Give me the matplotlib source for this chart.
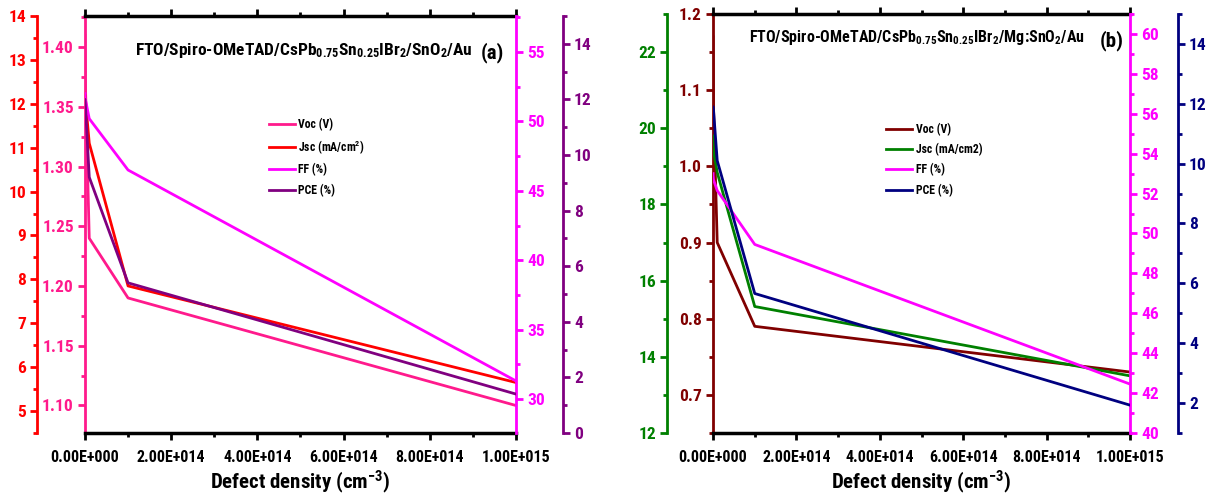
import matplotlib
matplotlib.use("Agg")
import matplotlib.pyplot as plt
from matplotlib import font_manager
from matplotlib.ticker import MultipleLocator, FuncFormatter, FormatStrFormatter

# font: a narrow bold face if one is installed
names = set(f.name for f in font_manager.fontManager.ttflist)
fam = "Liberation Sans"
for cand in ["Liberation Sans Narrow", "Arial Narrow", "Roboto Condensed", "Open Sans Condensed",
             "Noto Sans Condensed", "DejaVu Sans Condensed"]:
    if cand in names:
        fam = cand
        break
narrow = fam != "Liberation Sans"
k = 1.0 if narrow else 0.84  # shrink text when no narrow face

plt.rcParams["font.family"] = [fam, "DejaVu Sans"]
plt.rcParams["font.weight"] = "bold"
plt.rcParams["axes.labelweight"] = "bold"
plt.rcParams["mathtext.fontset"] = "custom"
plt.rcParams["mathtext.rm"] = fam + ":bold"
plt.rcParams["mathtext.it"] = fam + ":bold"
plt.rcParams["mathtext.bf"] = fam + ":bold"
plt.rcParams["mathtext.default"] = "rm"

# data (defect density sweep)
density = [1e10, 1e11, 1e12, 1e13, 1e14, 1e15]

voc_a = [1.41, 1.40, 1.37, 1.24, 1.19, 1.10]
jsc_a = [12.2, 12.2, 12.1, 11.1, 7.85, 5.65]
ff_a = [52.0, 51.9, 51.6, 50.2, 46.5, 31.3]
pce_a = [12.0, 12.0, 11.8, 9.2, 5.4, 1.4]

voc_b = [1.17, 1.15, 1.08, 0.90, 0.79, 0.73]
jsc_b = [19.8, 19.7, 19.4, 18.84, 15.32, 13.5]
ff_b = [53.0, 52.9, 52.7, 52.15, 49.45, 42.45]
pce_b = [11.9, 11.9, 11.8, 10.1, 5.66, 1.93]

title_a = "FTO/Spiro-OMeTAD/CsPb$_{0.75}$Sn$_{0.25}$IBr$_2$/SnO$_2$/Au"
title_b = "FTO/Spiro-OMeTAD/CsPb$_{0.75}$Sn$_{0.25}$IBr$_2$/Mg:SnO$_2$/Au"
xticks = [0, 2e14, 4e14, 6e14, 8e14, 1e15]

LW = 2.0


def sci(v, pos):
    if v == 0:
        return "0.00E+000"
    e = 0
    m = v
    while abs(m) >= 10:
        m /= 10
        e += 1
    return "%.2fE+%03d" % (m, e)


def style_axis(a, side, color, major, minor, fmt, pos=None):
    for s in a.spines.values():
        s.set_visible(False)
    sp = a.spines[side]
    sp.set_visible(True)
    sp.set_color(color)
    sp.set_linewidth(2)
    if pos is not None:
        sp.set_position(("axes", pos))
    a.yaxis.set_ticks_position(side)
    a.yaxis.set_major_locator(MultipleLocator(major))
    a.yaxis.set_minor_locator(MultipleLocator(minor))
    a.yaxis.set_major_formatter(FormatStrFormatter(fmt))
    a.tick_params(axis="y", which="both", colors=color, direction="out", width=2)
    a.tick_params(axis="y", which="major", length=5, labelsize=12.5 * k, labelcolor=color, pad=3)
    a.tick_params(axis="y", which="minor", length=3)


def panel(rect, vals, colors, lims, steps, fmts, outer, title, tsize, tpos, tag, tagpos, legpos, jsc_label):
    ax = fig.add_axes(rect)
    ax_j = ax.twinx()
    ax_f = ax.twinx()
    ax_p = ax.twinx()
    axes = [ax, ax_j, ax_f, ax_p]
    labels = ["Voc (V)", jsc_label, "FF (%)", "PCE (%)"]
    handles = []
    for a, v, c, lab, lim in zip(axes, vals, colors, labels, lims):
        h, = a.plot(density, v, color=c, lw=LW, label=lab)
        handles.append(h)
        a.set_ylim(lim)
    ax.set_xlim(0, 1e15)
    style_axis(ax, "left", colors[0], steps[0][0], steps[0][1], fmts[0])
    style_axis(ax_j, "left", colors[1], steps[1][0], steps[1][1], fmts[1], outer[0])
    style_axis(ax_f, "right", colors[2], steps[2][0], steps[2][1], fmts[2])
    style_axis(ax_p, "right", colors[3], steps[3][0], steps[3][1], fmts[3], outer[1])
    for s in ["top", "bottom"]:
        ax.spines[s].set_visible(True)
        ax.spines[s].set_color("black")
        ax.spines[s].set_linewidth(2.5)
    ax.set_xticks(xticks)
    ax.xaxis.set_minor_locator(MultipleLocator(1e14))
    ax.xaxis.set_major_formatter(FuncFormatter(sci))
    ax.tick_params(axis="x", which="both", bottom=True, top=True, width=2)
    ax.tick_params(axis="x", which="major", length=5, labelsize=11.5 * k, pad=7)
    ax.tick_params(axis="x", which="minor", length=3)
    ax.set_xlabel("Defect density (cm$^{-3}$)", fontsize=15 * k, fontweight="bold", labelpad=3)
    ax.text(tpos[0], tpos[1], title, transform=ax.transAxes, ha="center", va="center", fontsize=tsize * k)
    ax.text(tagpos[0], tagpos[1], tag, transform=ax.transAxes, ha="center", va="center", fontsize=15)
    ax_p.legend(handles=handles, loc="upper left", bbox_to_anchor=legpos, frameon=False,
                fontsize=8.5 * k, handlelength=2.2, handletextpad=0.3, labelspacing=0.6,
                borderpad=0, borderaxespad=0)
    return ax


fig = plt.figure(figsize=(12.1, 4.99), dpi=100)

panel([0.0702, 0.1323, 0.3562, 0.8357],
      [voc_a, jsc_a, ff_a, pce_a],
      ["#ff1a8c", "#ff0000", "#ff00ff", "#800080"],
      [(1.077, 1.426), (4.5, 14), (27.55, 57.6), (0, 15)],
      [(0.05, 0.025), (1, 0.5), (5, 2.5), (2, 1)],
      ["%.2f", "%d", "%d", "%d"],
      (-0.111, 1.109),
      title_a, 12.5, (0.508, 0.918), "(a)", (0.945, 0.912), (0.427, 0.755),
      "Jsc (mA/cm$^2$)")

panel([0.5893, 0.1323, 0.3446, 0.8397],
      [voc_b, jsc_b, ff_b, pce_b],
      ["#800000", "#008000", "#ff00ff", "#000080"],
      [(0.65, 1.2), (12, 23), (40, 61), (1, 15)],
      [(0.1, 0.05), (2, 1), (2, 1), (2, 1)],
      ["%.1f", "%d", "%d", "%d"],
      (-0.110, 1.115),
      title_b, 11.5, (0.49, 0.943), "(b)", (0.955, 0.936), (0.415, 0.74),
      "Jsc (mA/cm2)")

fig.savefig("out.png", dpi=100)
